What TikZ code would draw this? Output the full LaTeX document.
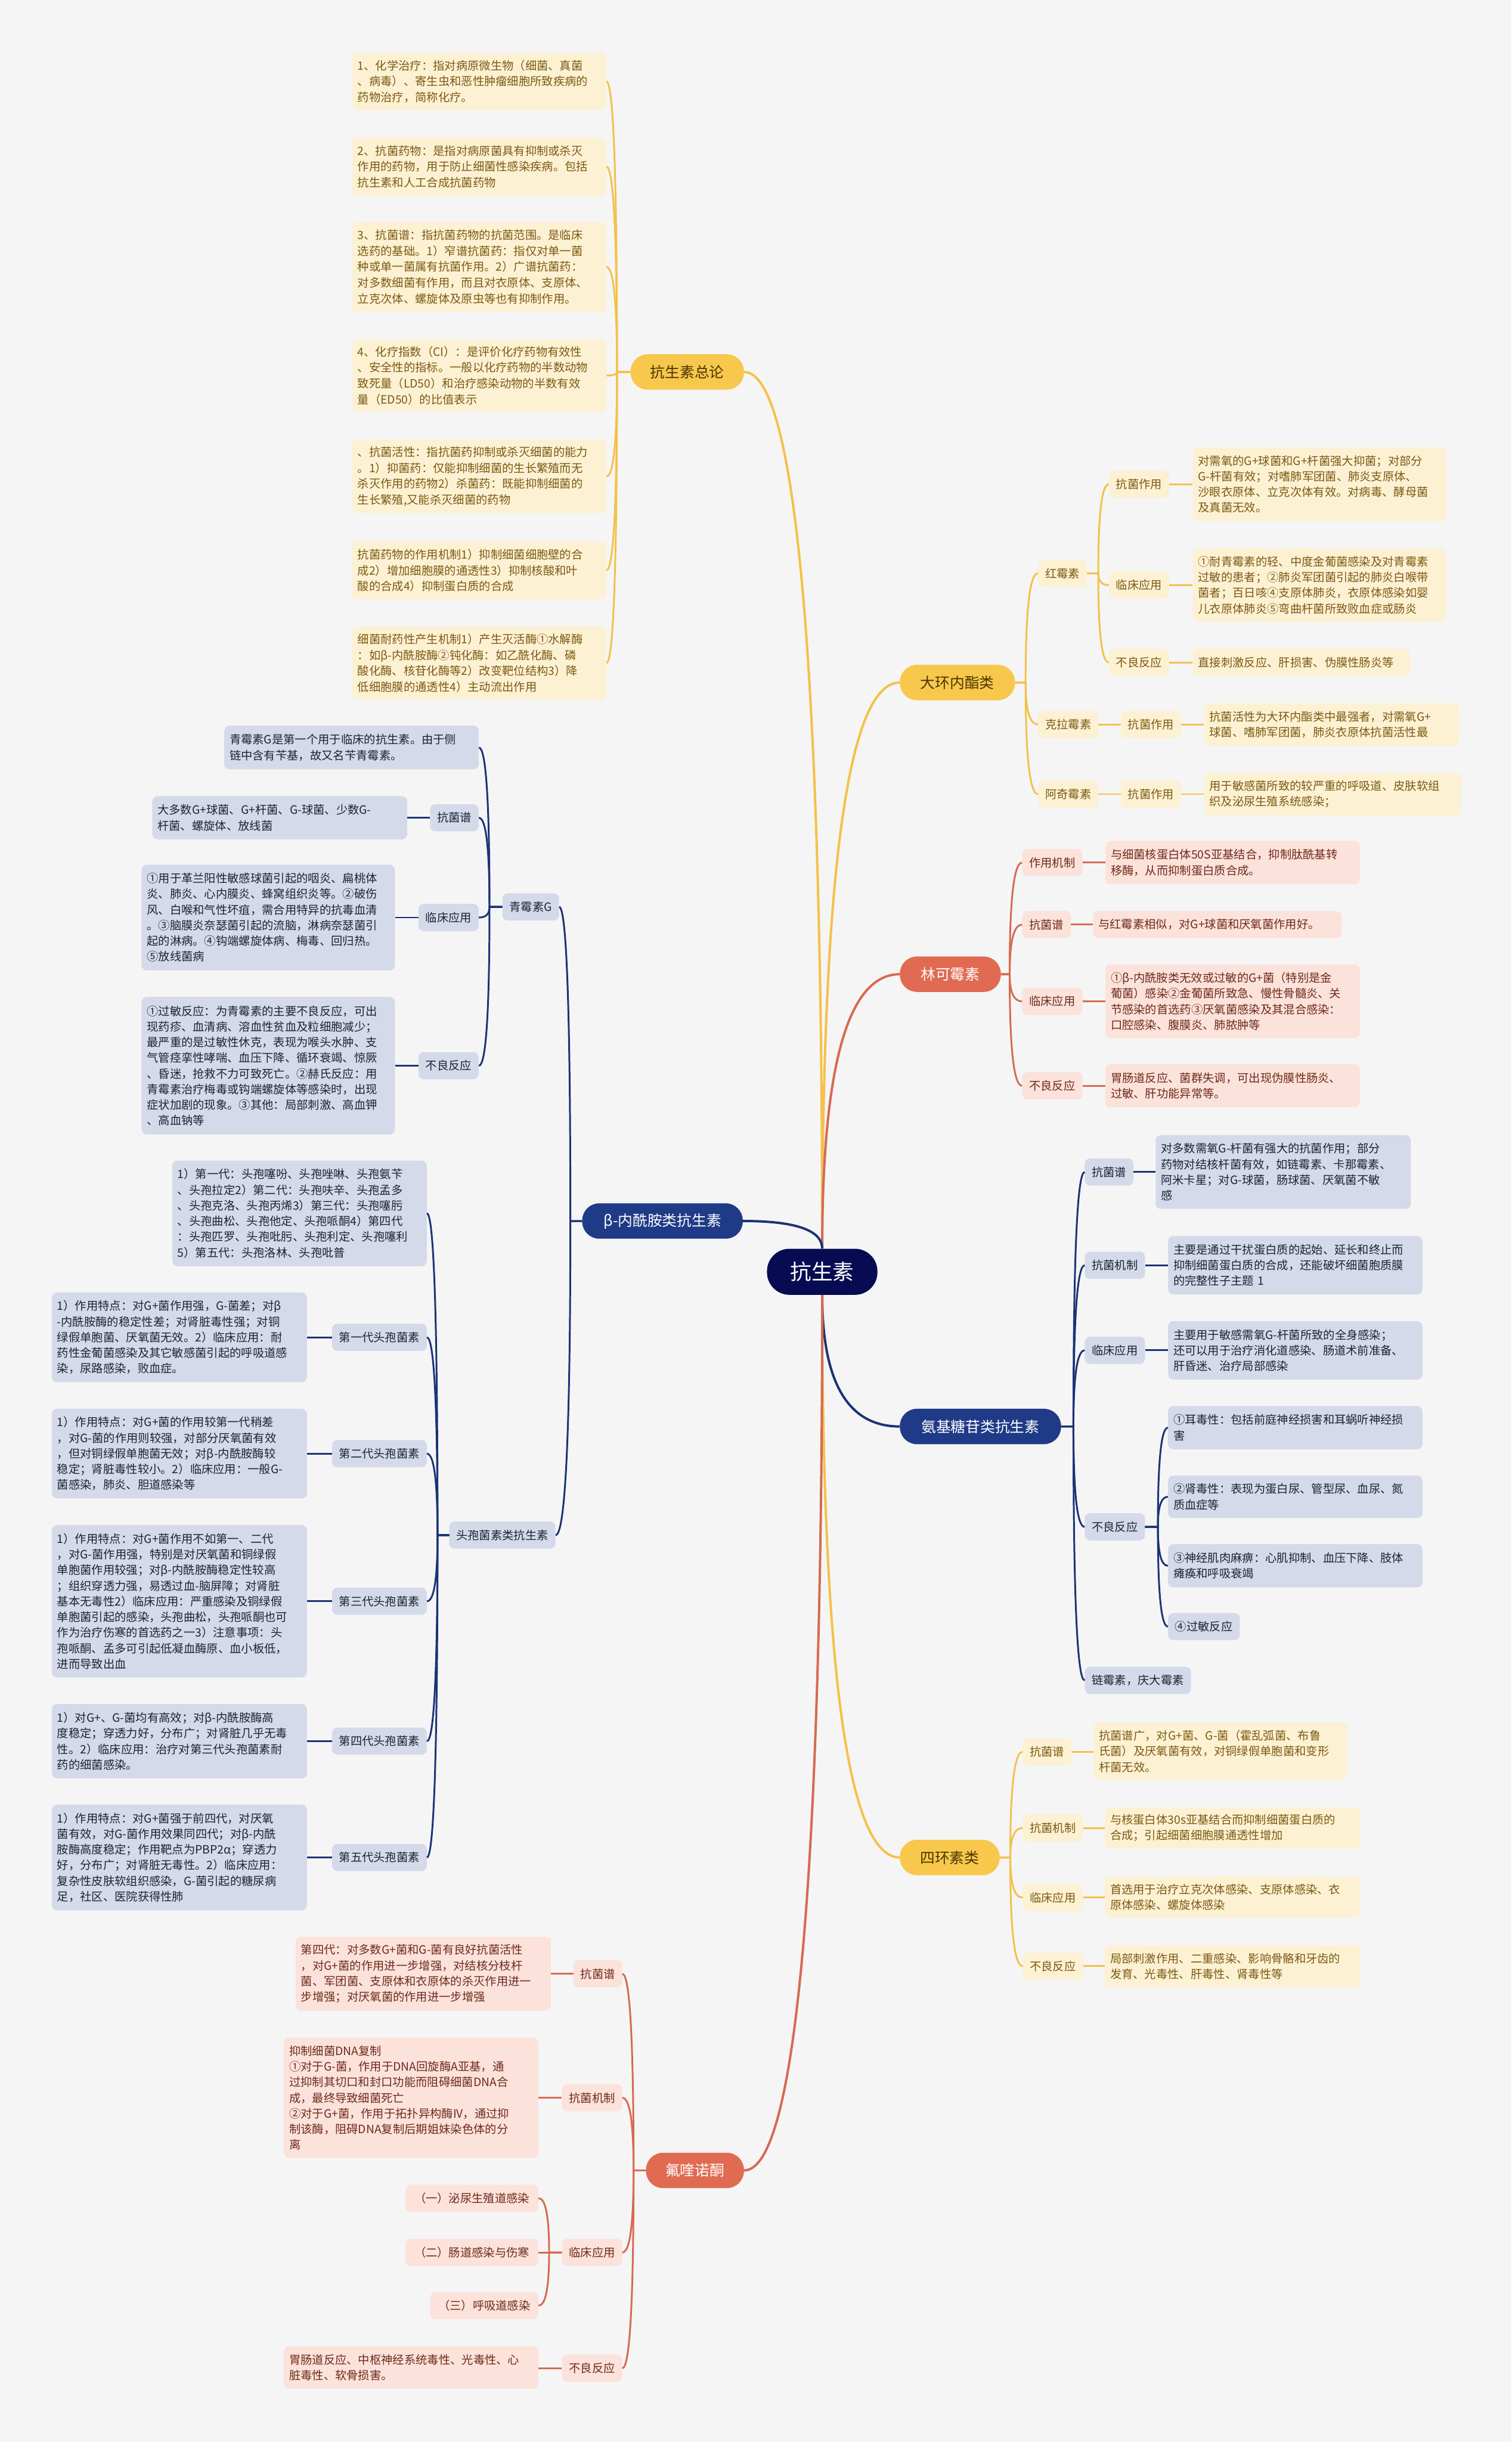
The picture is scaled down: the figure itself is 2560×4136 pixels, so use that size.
\documentclass[tikz,border=0pt]{standalone}
\usepackage{fontspec}
\setmainfont{Noto Sans CJK SC}
\usetikzlibrary{calc}
\definecolor{bgc}{HTML}{F5F5F5}
\definecolor{cnavy}{HTML}{070B52}
\definecolor{nblue}{HTML}{1F3B87}
\definecolor{nline}{HTML}{1B3377}
\definecolor{bfill}{HTML}{D4DAE9}
\definecolor{btext}{HTML}{1E2233}
\definecolor{ypill}{HTML}{F8C84D}
\definecolor{yline}{HTML}{F4C14A}
\definecolor{yfill}{HTML}{FDF1D4}
\definecolor{ytext}{HTML}{7A5A10}
\definecolor{ypt}{HTML}{4A3500}
\definecolor{rpill}{HTML}{E06B52}
\definecolor{rline}{HTML}{D66A52}
\definecolor{rfill}{HTML}{FBE2DA}
\definecolor{rtext}{HTML}{6E2A1C}
\newcommand\fsz[2]{\fontsize{#1}{#2}\selectfont}
% branch connector: parent anchor, spine coordinate, child anchor
\newcommand\brl[4]{\draw[#1] (#2) -- (#2 -| #3) .. controls ($(#2 -| #3)!0.6667!(#4 -| #3)$) and ($(#4)!0.6667!(#4 -| #3)$) .. (#4);}
% main connector from the central node
\newcommand\mbr[3]{\draw[#1] (#2) .. controls ($(#2)!0.6667!(#2 |- #3)$) and ($(#3)!0.6667!(#2 |- #3)$) .. (#3);}
\newcommand\stl[3]{\draw[#1] (#2) -- (#2 -| #3);}
\tikzset{
 lf/.style={rounded corners=9pt, inner xsep=9pt, inner ysep=2pt, align=left, font=\fsz{19.5pt}{26.5pt}},
 yl/.style={lf, fill=yfill, text=ytext},
 zl/.style={yl, font=\fsz{19.5pt}{26.8pt}, text width=412pt},
 bl/.style={lf, fill=bfill, text=btext},
 rl/.style={lf, fill=rfill, text=rtext},
 lab/.style={rounded corners=9pt, inner xsep=12pt, inner ysep=0pt, minimum height=46pt, font=\fsz{19.5pt}{26.5pt}},
 ylab/.style={lab, fill=yfill, text=ytext},
 blab/.style={lab, fill=bfill, text=btext},
 rlab/.style={lab, fill=rfill, text=rtext},
 pill/.style={rounded corners=29pt, minimum height=60pt, inner sep=0pt, font=\fsz{25pt}{30pt}},
 yp/.style={pill, fill=ypill, text=ypt},
 rp/.style={pill, fill=rpill, text=white},
 np/.style={pill, fill=nblue, text=white},
 ym/.style={draw=yline, line width=4pt},
 rm/.style={draw=rline, line width=4pt},
 nm/.style={draw=nline, line width=4pt},
 ys/.style={draw=yline, line width=3pt},
 rs/.style={draw=rline, line width=3pt},
 ns/.style={draw=nline, line width=3pt},
}
\begin{document}
\begin{tikzpicture}[x=1pt,y=-1pt]
\path[fill=bgc] (0,0) rectangle (2560,4136);
\useasboundingbox (0,0) rectangle (2560,4136);

% central
\node[rounded corners=38pt, minimum width=187pt, minimum height=78pt, inner sep=0pt, fill=cnavy, text=white, font=\fsz{36pt}{40pt}] (cen) at (1392.5,2154) {抗生素};

% main branches
\node[yp, minimum width=192pt] (zl) at (1164,630) {抗生素总论};
\node[yp, minimum width=195pt] (dh) at (1621.5,1156) {大环内酯类};
\node[rp, minimum width=171pt] (lk) at (1609.5,1650) {林可霉素};
\node[np, minimum width=272pt] (bt) at (1122,2068) {β-内酰胺类抗生素};
\node[np, minimum width=273pt] (aj) at (1660.5,2416) {氨基糖苷类抗生素};
\node[yp, minimum width=169pt] (sh) at (1608.5,3146) {四环素类};
\node[rp, minimum width=166pt] (fq) at (1177,3676) {氟喹诺酮};

% ---------- 抗生素总论 ----------
\node[zl, anchor=east, minimum height=97pt] (z1) at (1027,138) {1、化学治疗：指对病原微生物（细菌、真菌\\、病毒）、寄生虫和恶性肿瘤细胞所致疾病的\\药物治疗，简称化疗。};
\node[zl, anchor=east, minimum height=99pt] (z2) at (1027,282) {2、抗菌药物：是指对病原菌具有抑制或杀灭\\作用的药物，用于防止细菌性感染疾病。包括\\抗生素和人工合成抗菌药物};
\node[zl, anchor=east, minimum height=152pt] (z3) at (1027,452) {3、抗菌谱：指抗菌药物的抗菌范围。是临床\\选药的基础。1）窄谱抗菌药：指仅对单一菌\\种或单一菌属有抗菌作用。2）广谱抗菌药：\\对多数细菌有作用，而且对衣原体、支原体、\\立克次体、螺旋体及原虫等也有抑制作用。};
\node[zl, anchor=east, minimum height=122pt] (z4) at (1027,636) {4、化疗指数（CI）：是评价化疗药物有效性\\、安全性的指标。一般以化疗药物的半数动物\\致死量（LD50）和治疗感染动物的半数有效\\量（ED50）的比值表示};
\node[zl, anchor=east, minimum height=124pt] (z5) at (1027,807) {、抗菌活性：指抗菌药抑制或杀灭细菌的能力\\。1）抑菌药：仅能抑制细菌的生长繁殖而无\\杀灭作用的药物2）杀菌药：既能抑制细菌的\\生长繁殖,又能杀灭细菌的药物};
\node[zl, anchor=east, minimum height=98pt] (z6) at (1027,966) {抗菌药物的作用机制1）抑制细菌细胞壁的合\\成2）增加细胞膜的通透性3）抑制核酸和叶\\酸的合成4）抑制蛋白质的合成};
\node[zl, anchor=east, minimum height=124pt] (z7) at (1027,1123) {细菌耐药性产生机制1）产生灭活酶①水解酶\\：如β-内酰胺酶②钝化酶：如乙酰化酶、磷\\酸化酶、核苷化酶等2）改变靶位结构3）降\\低细胞膜的通透性4）主动流出作用};

% ---------- β-内酰胺类 ----------
\node[blab, anchor=east] (pg) at (947,1536) {青霉素G};
\node[bl, anchor=east, text width=413pt, minimum height=74pt] (pg0) at (811,1266) {青霉素G是第一个用于临床的抗生素。由于侧\\链中含有苄基，故又名苄青霉素。};
\node[blab, anchor=east] (pga) at (811,1385) {抗菌谱};
\node[bl, anchor=east, text width=414pt, minimum height=73pt] (pgaL) at (690,1385) {大多数G+球菌、G+杆菌、G-球菌、少数G-\\杆菌、螺旋体、放线菌};
\node[blab, anchor=east] (pgc) at (811,1554) {临床应用};
\node[bl, anchor=east, text width=411pt, minimum height=179pt] (pgcL) at (669,1554) {①用于革兰阳性敏感球菌引起的咽炎、扁桃体\\炎、肺炎、心内膜炎、蜂窝组织炎等。②破伤\\风、白喉和气性坏疽，需合用特异的抗毒血清\\。③脑膜炎奈瑟菌引起的流脑，淋病奈瑟菌引\\起的淋病。④钩端螺旋体病、梅毒、回归热。\\⑤放线菌病};
\node[blab, anchor=east] (pgd) at (811,1805) {不良反应};
\node[bl, anchor=east, text width=411pt, minimum height=233pt] (pgdL) at (669,1805) {①过敏反应：为青霉素的主要不良反应，可出\\现药疹、血清病、溶血性贫血及粒细胞减少；\\最严重的是过敏性休克，表现为喉头水肿、支\\气管痉挛性哮喘、血压下降、循环衰竭、惊厥\\、昏迷，抢救不力可致死亡。②赫氏反应：用\\青霉素治疗梅毒或钩端螺旋体等感染时，出现\\症状加剧的现象。③其他：局部刺激、高血钾\\、高血钠等};

\node[blab, anchor=east] (tb) at (941,2600) {头孢菌素类抗生素};
\node[bl, anchor=east, text width=413pt, minimum height=179pt] (tb0) at (723,2055) {1）第一代：头孢噻吩、头孢唑啉、头孢氨苄\\、头孢拉定2）第二代：头孢呋辛、头孢孟多\\、头孢克洛、头孢丙烯3）第三代：头孢噻肟\\、头孢曲松、头孢他定、头孢哌酮4）第四代\\：头孢匹罗、头孢吡肟、头孢利定、头孢噻利\\5）第五代：头孢洛林、头孢吡普};
\node[blab, anchor=east] (g1) at (723,2265) {第一代头孢菌素};
\node[bl, anchor=east, text width=414pt, minimum height=152pt] (g1L) at (520,2265) {1）作用特点：对G+菌作用强，G-菌差；对β\\-内酰胺酶的稳定性差；对肾脏毒性强；对铜\\绿假单胞菌、厌氧菌无效。2）临床应用：耐\\药性金葡菌感染及其它敏感菌引起的呼吸道感\\染，尿路感染，败血症。};
\node[blab, anchor=east] (g2) at (723,2462) {第二代头孢菌素};
\node[bl, anchor=east, text width=414pt, minimum height=152pt] (g2L) at (520,2462) {1）作用特点：对G+菌的作用较第一代稍差\\，对G-菌的作用则较强，对部分厌氧菌有效\\，但对铜绿假单胞菌无效；对β-内酰胺酶较\\稳定；肾脏毒性较小。2）临床应用：一般G-\\菌感染，肺炎、胆道感染等};
\node[blab, anchor=east] (g3) at (723,2712) {第三代头孢菌素};
\node[bl, anchor=east, text width=414pt, minimum height=258pt] (g3L) at (520,2712) {1）作用特点：对G+菌作用不如第一、二代\\，对G-菌作用强，特别是对厌氧菌和铜绿假\\单胞菌作用较强；对β-内酰胺酶稳定性较高\\；组织穿透力强，易透过血-脑屏障；对肾脏\\基本无毒性2）临床应用：严重感染及铜绿假\\单胞菌引起的感染，头孢曲松，头孢哌酮也可\\作为治疗伤寒的首选药之一3）注意事项：头\\孢哌酮、孟多可引起低凝血酶原、血小板低，\\进而导致出血};
\node[blab, anchor=east] (g4) at (723,2949) {第四代头孢菌素};
\node[bl, anchor=east, text width=414pt, minimum height=126pt] (g4L) at (520,2949) {1）对G+、G-菌均有高效；对β-内酰胺酶高\\度稳定；穿透力好，分布广；对肾脏几乎无毒\\性。2）临床应用：治疗对第三代头孢菌素耐\\药的细菌感染。};
\node[blab, anchor=east] (g5) at (723,3146) {第五代头孢菌素};
\node[bl, anchor=east, text width=414pt, minimum height=179pt] (g5L) at (520,3146) {1）作用特点：对G+菌强于前四代，对厌氧\\菌有效，对G-菌作用效果同四代；对β-内酰\\胺酶高度稳定；作用靶点为PBP2α；穿透力\\好，分布广；对肾脏无毒性。2）临床应用：\\复杂性皮肤软组织感染，G-菌引起的糖尿病\\足，社区、医院获得性肺};

% ---------- 氟喹诺酮 ----------
\node[rlab, anchor=east] (fa) at (1054,3343) {抗菌谱};
\node[rl, anchor=east, text width=414pt, minimum height=125pt] (faL) at (933,3343) {第四代：对多数G+菌和G-菌有良好抗菌活性\\，对G+菌的作用进一步增强，对结核分枝杆\\菌、军团菌、支原体和衣原体的杀灭作用进一\\步增强；对厌氧菌的作用进一步增强};
\node[rlab, anchor=east] (fb) at (1054,3553) {抗菌机制};
\node[rl, anchor=east, text width=413pt, minimum height=204pt] (fbL) at (912,3553) {抑制细菌DNA复制\\①对于G-菌，作用于DNA回旋酶A亚基，通\\过抑制其切口和封口功能而阻碍细菌DNA合\\成，最终导致细菌死亡\\②对于G+菌，作用于拓扑异构酶IV，通过抑\\制该酶，阻碍DNA复制后期姐妹染色体的分\\离};
\node[rlab, anchor=east] (fc) at (1054,3815) {临床应用};
\node[rlab, anchor=east, minimum width=225pt] (fc1) at (912,3723) {（一）泌尿生殖道感染};
\node[rlab, anchor=east, minimum width=225pt] (fc2) at (912,3815) {（二）肠道感染与伤寒};
\node[rlab, anchor=east, minimum width=183pt] (fc3) at (912,3905) {（三）呼吸道感染};
\node[rlab, anchor=east] (fd) at (1054,4011) {不良反应};
\node[rl, anchor=east, text width=413pt, minimum height=72pt] (fdL) at (912,4010) {胃肠道反应、中枢神经系统毒性、光毒性、心\\脏毒性、软骨损害。};

% ---------- 大环内酯类 ----------
\node[ylab, anchor=west] (hm) at (1758,971) {红霉素};
\node[ylab, anchor=west] (hm1) at (1878,820) {抗菌作用};
\node[yl, anchor=west, text width=411pt, minimum height=125pt] (hm1L) at (2020,820) {对需氧的G+球菌和G+杆菌强大抑菌；对部分\\G-杆菌有效；对嗜肺军团菌、肺炎支原体、\\沙眼衣原体、立克次体有效。对病毒、酵母菌\\及真菌无效。};
\node[ylab, anchor=west] (hm2) at (1878,991) {临床应用};
\node[yl, anchor=west, text width=411pt, minimum height=124pt] (hm2L) at (2020,991) {①耐青霉素的轻、中度金葡菌感染及对青霉素\\过敏的患者；②肺炎军团菌引起的肺炎白喉带\\菌者；百日咳④支原体肺炎，衣原体感染如婴\\儿衣原体肺炎⑤弯曲杆菌所致败血症或肠炎};
\node[ylab, anchor=west] (hm3) at (1878,1122) {不良反应};
\node[yl, anchor=west, text width=350pt, minimum height=46pt] (hm3L) at (2020,1122) {直接刺激反应、肝损害、伪膜性肠炎等};
\node[ylab, anchor=west] (kl) at (1758,1227) {克拉霉素};
\node[ylab, anchor=west] (kl1) at (1898,1227) {抗菌作用};
\node[yl, anchor=west, text width=414pt, minimum height=72pt] (kl1L) at (2039,1227) {抗菌活性为大环内酯类中最强者，对需氧G+\\球菌、嗜肺军团菌，肺炎衣原体抗菌活性最};
\node[ylab, anchor=west] (aq) at (1758,1345) {阿奇霉素};
\node[ylab, anchor=west] (aq1) at (1898,1345) {抗菌作用};
\node[yl, anchor=west, text width=417pt, minimum height=72pt] (aq1L) at (2039,1345) {用于敏感菌所致的较严重的呼吸道、皮肤软组\\织及泌尿生殖系统感染；};

% ---------- 林可霉素 ----------
\node[rlab, anchor=west] (lk1) at (1731,1461) {作用机制};
\node[rl, anchor=west, text width=413pt, minimum height=73pt] (lk1L) at (1872,1461) {与细菌核蛋白体50S亚基结合，抑制肽酰基转\\移酶，从而抑制蛋白质合成。};
\node[rlab, anchor=west] (lk2) at (1731,1566) {抗菌谱};
\node[rl, anchor=west, text width=403pt, minimum height=46pt] (lk2L) at (1851,1566) {与红霉素相似，对G+球菌和厌氧菌作用好。};
\node[rlab, anchor=west] (lk3) at (1731,1696) {临床应用};
\node[rl, anchor=west, text width=413pt, minimum height=125pt] (lk3L) at (1872,1696) {①β-内酰胺类无效或过敏的G+菌（特别是金\\葡菌）感染②金葡菌所致急、慢性骨髓炎、关\\节感染的首选药③厌氧菌感染及其混合感染：\\口腔感染、腹膜炎、肺脓肿等};
\node[rlab, anchor=west] (lk4) at (1731,1839) {不良反应};
\node[rl, anchor=west, text width=413pt, minimum height=73pt] (lk4L) at (1872,1839) {胃肠道反应、菌群失调，可出现伪膜性肠炎、\\过敏、肝功能异常等。};

% ---------- 氨基糖苷类 ----------
\node[blab, anchor=west] (aj1) at (1837,1985) {抗菌谱};
\node[bl, anchor=west, text width=414pt, minimum height=125pt] (aj1L) at (1957,1985) {对多数需氧G-杆菌有强大的抗菌作用；部分\\药物对结核杆菌有效，如链霉素、卡那霉素、\\阿米卡星；对G-球菌，肠球菌、厌氧菌不敏\\感};
\node[blab, anchor=west] (aj2) at (1837,2143) {抗菌机制};
\node[bl, anchor=west, text width=413pt, minimum height=99pt] (aj2L) at (1978,2143) {主要是通过干扰蛋白质的起始、延长和终止而\\抑制细菌蛋白质的合成，还能破坏细菌胞质膜\\的完整性子主题 1};
\node[blab, anchor=west] (aj3) at (1837,2287) {临床应用};
\node[bl, anchor=west, text width=413pt, minimum height=99pt] (aj3L) at (1978,2287) {主要用于敏感需氧G-杆菌所致的全身感染；\\还可以用于治疗消化道感染、肠道术前准备、\\肝昏迷、治疗局部感染};
\node[blab, anchor=west] (aj4) at (1837,2586) {不良反应};
\node[bl, anchor=west, text width=413pt, minimum height=73pt] (aj4a) at (1978,2418) {①耳毒性：包括前庭神经损害和耳蜗听神经损\\害};
\node[bl, anchor=west, text width=413pt, minimum height=72pt] (aj4b) at (1978,2535) {②肾毒性：表现为蛋白尿、管型尿、血尿、氮\\质血症等};
\node[bl, anchor=west, text width=413pt, minimum height=73pt] (aj4c) at (1978,2652) {③神经肌肉麻痹：心肌抑制、血压下降、肢体\\瘫痪和呼吸衰竭};
\node[blab, anchor=west] (aj4d) at (1978,2755) {④过敏反应};
\node[blab, anchor=west] (aj5) at (1837,2846) {链霉素，庆大霉素};

% ---------- 四环素类 ----------
\node[ylab, anchor=west] (sh1) at (1732,2967) {抗菌谱};
\node[yl, anchor=west, text width=412pt, minimum height=97pt] (sh1L) at (1852,2966) {抗菌谱广，对G+菌、G-菌（霍乱弧菌、布鲁\\氏菌）及厌氧菌有效，对铜绿假单胞菌和变形\\杆菌无效。};
\node[ylab, anchor=west] (sh2) at (1732,3096) {抗菌机制};
\node[yl, anchor=west, text width=414pt, minimum height=70pt] (sh2L) at (1871,3096) {与核蛋白体30s亚基结合而抑制细菌蛋白质的\\合成；引起细菌细胞膜通透性增加};
\node[ylab, anchor=west] (sh3) at (1732,3214) {临床应用};
\node[yl, anchor=west, text width=414pt, minimum height=70pt] (sh3L) at (1871,3213) {首选用于治疗立克次体感染、支原体感染、衣\\原体感染、螺旋体感染};
\node[ylab, anchor=west] (sh4) at (1732,3330) {不良反应};
\node[yl, anchor=west, text width=414pt, minimum height=71pt] (sh4L) at (1871,3330) {局部刺激作用、二重感染、影响骨骼和牙齿的\\发育、光毒性、肝毒性、肾毒性等};

% ---------- spines ----------
\coordinate (sZ) at (1045,0);
\coordinate (sB) at (966,0);
\coordinate (sP) at (829,0);
\coordinate (sT) at (741,0);
\coordinate (sF) at (1073,0);
\coordinate (sFc) at (930,0);
\coordinate (sD) at (1737,0);
\coordinate (sH) at (1860,0);
\coordinate (sL) at (1710,0);
\coordinate (sA) at (1818,0);
\coordinate (sAb) at (1961,0);
\coordinate (sS) at (1711,0);

% ---------- main connectors ----------
\mbr{ym}{cen.north}{zl.east}
\mbr{ym}{cen.north}{dh.west}
\mbr{rm}{cen.north}{lk.west}
\mbr{nm}{cen.north}{bt.east}
\mbr{nm}{cen.south}{aj.west}
\mbr{ym}{cen.south}{sh.west}
\mbr{rm}{cen.south}{fq.east}

% 总论
\foreach \c in {z1,z2,z3,z4,z5,z6,z7} {\brl{ys}{zl.west}{sZ}{\c.east}}
% β
\brl{ns}{bt.west}{sB}{pg.east}
\brl{ns}{bt.west}{sB}{tb.east}
\foreach \c in {pg0,pga,pgc,pgd} {\brl{ns}{pg.west}{sP}{\c.east}}
\stl{ns}{pga.west}{pgaL.east}
\stl{ns}{pgc.west}{pgcL.east}
\stl{ns}{pgd.west}{pgdL.east}
\foreach \c in {tb0,g1,g2,g3,g4,g5} {\brl{ns}{tb.west}{sT}{\c.east}}
\stl{ns}{g1.west}{g1L.east}
\stl{ns}{g2.west}{g2L.east}
\stl{ns}{g3.west}{g3L.east}
\stl{ns}{g4.west}{g4L.east}
\stl{ns}{g5.west}{g5L.east}
% 氟喹诺酮
\foreach \c in {fa,fb,fc,fd} {\brl{rs}{fq.west}{sF}{\c.east}}
\stl{rs}{fa.west}{faL.east}
\stl{rs}{fb.west}{fbL.east}
\stl{rs}{fd.west}{fdL.east}
\foreach \c in {fc1,fc2,fc3} {\brl{rs}{fc.west}{sFc}{\c.east}}
% 大环
\foreach \c in {hm,kl,aq} {\brl{ys}{dh.east}{sD}{\c.west}}
\foreach \c in {hm1,hm2,hm3} {\brl{ys}{hm.east}{sH}{\c.west}}
\stl{ys}{hm1.east}{hm1L.west}
\stl{ys}{hm2.east}{hm2L.west}
\stl{ys}{hm3.east}{hm3L.west}
\stl{ys}{kl.east}{kl1.west}
\stl{ys}{kl1.east}{kl1L.west}
\stl{ys}{aq.east}{aq1.west}
\stl{ys}{aq1.east}{aq1L.west}
% 林可
\foreach \c in {lk1,lk2,lk3,lk4} {\brl{rs}{lk.east}{sL}{\c.west}}
\stl{rs}{lk1.east}{lk1L.west}
\stl{rs}{lk2.east}{lk2L.west}
\stl{rs}{lk3.east}{lk3L.west}
\stl{rs}{lk4.east}{lk4L.west}
% 氨基
\foreach \c in {aj1,aj2,aj3,aj4,aj5} {\brl{ns}{aj.east}{sA}{\c.west}}
\stl{ns}{aj1.east}{aj1L.west}
\stl{ns}{aj2.east}{aj2L.west}
\stl{ns}{aj3.east}{aj3L.west}
\foreach \c in {aj4a,aj4b,aj4c,aj4d} {\brl{ns}{aj4.east}{sAb}{\c.west}}
% 四环
\foreach \c in {sh1,sh2,sh3,sh4} {\brl{ys}{sh.east}{sS}{\c.west}}
\stl{ys}{sh1.east}{sh1L.west}
\stl{ys}{sh2.east}{sh2L.west}
\stl{ys}{sh3.east}{sh3L.west}
\stl{ys}{sh4.east}{sh4L.west}
\end{tikzpicture}
\end{document}
